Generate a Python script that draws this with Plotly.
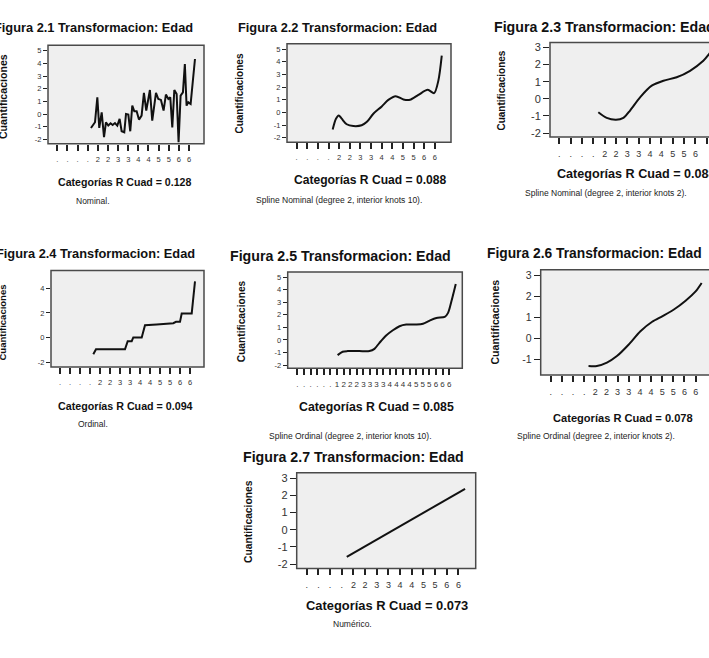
import plotly.graph_objects as go

W, H = 709, 658

# ---------------- data ----------------
tick_labels_14 = [".", ".", ".", ".", "2", "2", "3", "3", "4", "4", "5", "5", "6", "6"]
tick_labels_24 = [".", ".", ".", ".", ".", ".", "1", "2", "2", "2", "3", "3", "3", "3",
                  "4", "4", "4", "4", "5", "5", "5", "6", "6", "6"]

# 2.1 Nominal
x21 = [3.32, 3.72, 3.95, 4.14, 4.38, 4.61, 4.80, 5.03, 5.26, 5.46, 5.69, 5.92, 6.15, 6.35,
       6.61, 6.78, 7.01, 7.20, 7.40, 7.60, 7.83, 8.06, 8.32, 8.55, 8.78, 9.14, 9.37, 9.74,
       9.97, 10.23, 10.49, 10.72, 10.96, 11.15, 11.35, 11.55, 11.78, 11.97, 12.17, 12.40,
       12.59, 12.76, 12.93, 13.16, 13.59]
y21 = [-1.09, -0.64, 1.33, -1.09, 0.14, -1.82, -0.64, -0.90, -0.72, -0.85, -0.70, -0.90,
       -0.38, -1.35, -1.43, 0.01, -0.04, -1.35, 0.67, 0.22, 0.22, -0.43, -0.12, 1.67, 0.28,
       1.90, -0.51, 1.67, 1.19, 1.12, 0.28, 1.54, 1.19, 1.33, -1.04, 1.90, 1.59, -2.22,
       1.46, 1.72, 3.95, 0.67, 0.93, 0.80, 4.34]

# 2.2 Spline Nominal (10 knots)
x22 = [3.39, 3.70, 3.96, 4.24, 4.71, 5.34, 6.12, 6.59, 7.22, 8.01, 8.63, 9.32, 10.05,
       10.67, 11.46, 12.34, 12.94, 13.34, 13.66]
y22 = [-1.35, -0.50, -0.24, -0.50, -0.94, -1.08, -1.02, -0.77, -0.11, 0.47, 0.99, 1.28,
       1.02, 0.99, 1.38, 1.78, 1.52, 2.51, 4.48]

# 2.3 Spline Nominal (2 knots)
x23 = [3.44, 4.18, 5.00, 5.65, 6.24, 7.12, 8.15, 9.18, 10.35, 11.53, 12.70, 13.20, 13.60]
y23 = [-0.78, -1.11, -1.22, -1.11, -0.68, 0.09, 0.77, 1.06, 1.26, 1.64, 2.22, 2.61, 2.95]

# 2.4 Ordinal
x24 = [3.33, 3.60, 6.50, 6.77, 7.17, 7.33, 8.17, 8.50, 9.67, 10.67, 11.33, 11.60, 12.00,
       12.17, 13.17, 13.50]
y24 = [-1.33, -0.93, -0.93, -0.27, -0.27, 0.03, 0.03, 1.01, 1.07, 1.10, 1.17, 1.28, 1.28,
       1.95, 1.95, 4.53]

# 2.5 Spline Ordinal (10 knots)
x25 = [6.09, 6.85, 7.61, 9.39, 10.91, 11.68, 12.44, 13.45, 14.47, 15.48, 16.50, 18.02,
       19.04, 20.05, 21.07, 22.34, 22.84, 23.35, 24.01]
y25 = [-1.21, -0.94, -0.89, -0.89, -0.89, -0.71, -0.23, 0.35, 0.77, 1.09, 1.22, 1.22,
       1.28, 1.54, 1.75, 1.83, 2.15, 3.07, 4.45]

# 2.6 Spline Ordinal (2 knots)
x26 = [3.39, 4.14, 5.04, 5.94, 7.00, 8.05, 9.10, 10.00, 11.05, 12.10, 13.00, 13.54]
y26 = [-1.30, -1.30, -1.14, -0.83, -0.28, 0.35, 0.80, 1.06, 1.38, 1.80, 2.24, 2.64]

# 2.7 Numerico
x27 = [3.43, 13.57]
y27 = [-1.58, 2.38]

# ---------------- panels ----------------
panels = [
    dict(n="2.1", x=x21, y=y21, shape="linear", box=(48, 44.5, 204, 143.5),
         xr=(-0.92, 14.48), yr=(-2.34, 5.42), yt=[-2, -1, 0, 1, 2, 3, 4, 5],
         xt=tick_labels_14, tfs=7.5, xfs=7.5, tl=4),
    dict(n="2.2", x=x22, y=y22, shape="spline", box=(287, 43, 451, 142),
         xr=(-0.91, 14.53), yr=(-2.37, 5.42), yt=[-2, -1, 0, 1, 2, 3, 4, 5],
         xt=tick_labels_14, tfs=7.5, xfs=7.5, tl=4),
    dict(n="2.3", x=x23, y=y23, shape="spline", box=(550, 41.7, 709, 136.7), open_right=True,
         xr=(-0.82, 13.2), yr=(-2.23, 3.29), yt=[-2, -1, 0, 1, 2, 3],
         xt=tick_labels_14, tfs=11, xfs=9, tl=6),
    dict(n="2.4", x=x24, y=y24, shape="linear", box=(51, 270.7, 204, 367.7),
         xr=(-0.9, 14.4), yr=(-2.35, 5.41), yt=[-2, 0, 2, 4],
         xt=tick_labels_14, tfs=7.5, xfs=7.5, tl=4),
    dict(n="2.5", x=x25, y=y25, shape="spline", box=(287.7, 272.3, 462.3, 369),
         xr=(-1.48, 25.0), yr=(-2.26, 5.40), yt=[-2, -1, 0, 1, 2, 3, 4, 5],
         xt=tick_labels_24, tfs=7.5, xfs=8, tl=4),
    dict(n="2.6", x=x26, y=y26, shape="spline", box=(540.7, 270, 709, 375.7), open_right=True,
         xr=(-0.9, 14.2), yr=(-1.73, 3.27), yt=[-1, 0, 1, 2, 3],
         xt=tick_labels_14, tfs=10.5, xfs=9, tl=6),
    dict(n="2.7", x=x27, y=y27, shape="linear", box=(296.7, 474, 475.7, 570),
         xr=(-0.86, 14.48), yr=(-2.25, 3.31), yt=[-2, -1, 0, 1, 2, 3],
         xt=tick_labels_14, tfs=11, xfs=9, tl=6),
]

titles = [
    ("Figura 2.1 Transformacion: Edad", 194.5, 26.7, 12.8, "right"),
    ("Figura 2.2 Transformacion: Edad", 337, 26.3, 12.8, "center"),
    ("Figura 2.3 Transformacion: Edad", 492, 26.3, 14.2, "left"),
    ("Figura 2.4 Transformacion: Edad", 196.5, 254, 12.8, "right"),
    ("Figura 2.5 Transformacion: Edad", 340, 255.7, 14.2, "center"),
    ("Figura 2.6 Transformacion: Edad", 594.5, 253.3, 13.8, "center"),
    ("Figura 2.7 Transformacion: Edad", 353, 458.3, 14.2, "center"),
]
r2 = [
    ("Categorías R Cuad = 0.128", 124, 182, 10.6),
    ("Categorías R Cuad = 0.088", 370.5, 180, 12.1),
    ("Categorías R Cuad = 0.088", 636, 174, 12.6),
    ("Categorías R Cuad = 0.094", 125.6, 406.7, 10.7),
    ("Categorías R Cuad = 0.085", 377, 407.7, 12.3),
    ("Categorías R Cuad = 0.078", 623, 419.3, 11.1),
    ("Categorías R Cuad = 0.073", 387, 607.7, 12.9),
]
notes = [
    ("Nominal.", 92.5, 201),
    ("Spline Nominal (degree 2, interior knots 10).", 338.8, 200),
    ("Spline Nominal (degree 2, interior knots 2).", 605.5, 193),
    ("Ordinal.", 93, 425),
    ("Spline Ordinal (degree 2, interior knots 10).", 350.7, 436.7),
    ("Spline Ordinal (degree 2, interior knots 2).", 596, 437),
    ("Numérico.", 352, 626),
]
ytitles = [(2.5, 96, 10.6), (240, 93, 10), (502, 90, 10), (3, 323, 9.5),
           (241.7, 322, 10.2), (495, 323, 10.6), (248.3, 523, 10.3)]

FONT = "Liberation Sans, Arial, sans-serif"
BORDER = "#4a4a4a"

def px(x):
    return x / W

def py(y):
    return 1 - y / H

fig = go.Figure()
shapes = []
annotations = []

for i, p in enumerate(panels, start=1):
    l, t, r, b = p["box"]
    xa = "xaxis" if i == 1 else f"xaxis{i}"
    ya = "yaxis" if i == 1 else f"yaxis{i}"
    fig.add_trace(go.Scatter(
        x=p["x"], y=p["y"], mode="lines",
        line=dict(color="#111111", width=2, shape=p["shape"], smoothing=0.8),
        xaxis=f"x{i}" if i > 1 else "x", yaxis=f"y{i}" if i > 1 else "y",
        showlegend=False, hoverinfo="skip"))
    fig.layout[xa] = dict(
        domain=[px(l), min(1.0, px(r))], range=list(p["xr"]), anchor=f"y{i}" if i > 1 else "y",
        tickmode="array", tickvals=list(range(len(p["xt"]))), ticktext=p["xt"],
        ticks="outside", ticklen=6, tickwidth=1.6, tickcolor="#222", tickangle=0,
        showgrid=False, zeroline=False, showline=False, fixedrange=True,
        tickfont=dict(family=FONT, size=p["xfs"], color="#333"), ticklabelstandoff=2)
    fig.layout[ya] = dict(
        domain=[py(b), py(t)], range=list(p["yr"]), anchor=f"x{i}" if i > 1 else "x",
        tickmode="array", tickvals=p["yt"], ticktext=[str(v) for v in p["yt"]],
        ticks="outside", ticklen=p["tl"], tickwidth=1.4, tickcolor="#222",
        showgrid=False, zeroline=False, showline=False, fixedrange=True,
        tickfont=dict(family=FONT, size=p["tfs"], color="#333"))
    x1 = px(r) + 0.05 if p.get("open_right") else px(r)
    shapes.append(dict(type="rect", xref="paper", yref="paper", x0=px(l), x1=x1,
                       y0=py(b), y1=py(t), line=dict(color=BORDER, width=1.5),
                       fillcolor="rgba(0,0,0,0)", layer="above"))

for text, x, y, s, anc in titles:
    annotations.append(dict(text=f"<b>{text}</b>", x=px(x), y=py(y), xref="paper", yref="paper",
                            xanchor=anc, yanchor="middle", showarrow=False,
                            font=dict(family=FONT, size=s, color="#111")))
for text, x, y, s in r2:
    annotations.append(dict(text=f"<b>{text}</b>", x=px(x), y=py(y), xref="paper", yref="paper",
                            xanchor="center", yanchor="middle", showarrow=False,
                            font=dict(family=FONT, size=s, color="#111")))
for text, x, y in notes:
    annotations.append(dict(text=text, x=px(x), y=py(y), xref="paper", yref="paper",
                            xanchor="center", yanchor="middle", showarrow=False,
                            font=dict(family=FONT, size=8.5, color="#222")))
for x, y, s in ytitles:
    annotations.append(dict(text="<b>Cuantificaciones</b>", x=px(x), y=py(y), xref="paper",
                            yref="paper", xanchor="center", yanchor="middle", showarrow=False,
                            textangle=-90, font=dict(family=FONT, size=s, color="#111")))

fig.update_layout(
    width=W, height=H, margin=dict(l=0, r=0, t=0, b=0),
    paper_bgcolor="white", plot_bgcolor="#efefef",
    shapes=shapes, annotations=annotations, showlegend=False,
)

fig.write_html("out.html", config={"displayModeBar": False})
